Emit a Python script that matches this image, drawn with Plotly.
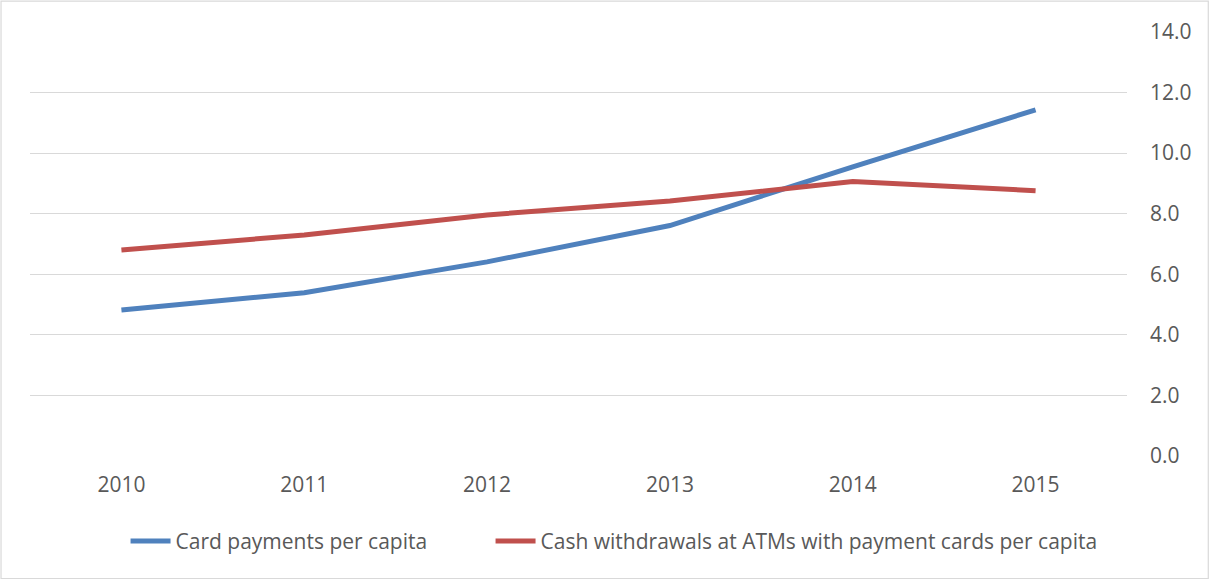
import plotly.graph_objects as go

# Per-capita payment card statistics
years = ["2010", "2011", "2012", "2013", "2014", "2015"]
card_payments = [4.82, 5.39, 6.41, 7.61, 9.55, 11.43]
atm_withdrawals = [6.80, 7.30, 7.96, 8.42, 9.06, 8.76]

series_names = [
    "Card payments per capita",
    "Cash withdrawals at ATMs with payment cards per capita",
]
y_ticks = [0, 2, 4, 6, 8, 10, 12, 14]

FONT = "Open Sans, Lato, DejaVu Sans, sans-serif"
TEXT_COLOR = "#595959"
GRID_COLOR = "#D9D9D9"

fig = go.Figure()
fig.add_trace(go.Scatter(
    x=years, y=card_payments, name=series_names[0], mode="lines",
    line=dict(color="#4F81BD", width=5),
    legendwidth=310,
))
fig.add_trace(go.Scatter(
    x=years, y=atm_withdrawals, name=series_names[1], mode="lines",
    line=dict(color="#C0504D", width=5),
))

fig.update_layout(
    width=1209, height=579,
    margin=dict(l=30, r=82, t=32, b=123),
    paper_bgcolor="white", plot_bgcolor="white",
    font=dict(family=FONT, color=TEXT_COLOR, size=21),
    legend=dict(
        orientation="h", x=0.0871, xanchor="left", y=-0.2015, yanchor="middle",
        font=dict(family=FONT, size=21, color=TEXT_COLOR),
        itemwidth=40, traceorder="normal",
    ),
    xaxis=dict(
        type="category", range=[-0.5, 5.5], showgrid=False, zeroline=False,
        showline=False, ticks="", tickfont=dict(size=21, color=TEXT_COLOR),
        ticklabelstandoff=14,
    ),
    yaxis=dict(
        side="right", range=[0, 14], tickvals=y_ticks, tickformat=".1f",
        showgrid=True, gridcolor=GRID_COLOR, gridwidth=1, zeroline=False,
        showline=False, ticks="", tickfont=dict(size=21, color=TEXT_COLOR),
        ticklabelstandoff=22,
    ),
    shapes=[dict(
        type="rect", xref="paper", yref="paper",
        x0=-0.0264, x1=1.0741, y0=-0.2889, y1=1.0727,
        line=dict(color=GRID_COLOR, width=1.2), fillcolor="rgba(0,0,0,0)",
        layer="below",
    )],
)

fig.write_html("out.html")
